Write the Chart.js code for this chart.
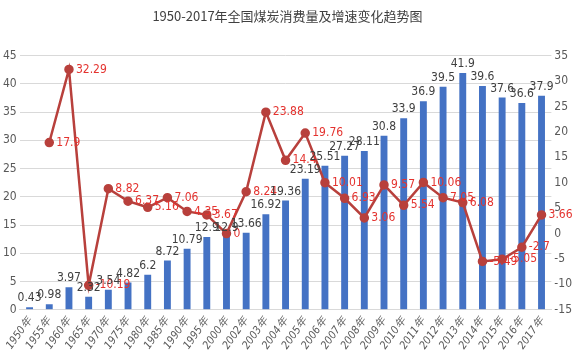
<!DOCTYPE html>
<html lang="zh">

<head>
    <meta charset="UTF-8">
    <title>1950-2017年全国煤炭消费量及增速变化趋势图</title>
    <script src="https://cdn.jsdelivr.net/npm/chart.js"></script>
    <style>
        html, body {
            margin: 0;
            padding: 0;
            background: #ffffff;
        }

        .chart-container {
            width: 575px;
            height: 364px;
        }
    </style>
</head>

<body>
    <div class="chart-container">
        <canvas id="coalChart"></canvas>
    </div>

    <script>
        // Years on the x axis
        const years = ['1950年', '1955年', '1960年', '1965年', '1970年', '1975年', '1980年', '1985年', '1990年',
            '1995年', '2000年', '2002年', '2003年', '2004年', '2005年', '2006年', '2007年', '2008年', '2009年',
            '2010年', '2011年', '2012年', '2013年', '2014年', '2015年', '2016年', '2017年'];

        // Coal consumption (bars, left axis)
        const consumption = [0.43, 0.98, 3.97, 2.32, 3.54, 4.82, 6.2, 8.72, 10.79,
            12.9, 12.9, 13.66, 16.92, 19.36, 23.19, 25.51, 27.27, 28.11, 30.8,
            33.9, 36.9, 39.5, 41.9, 39.6, 37.6, 36.6, 37.9];

        // Growth rate in % (line, right axis)
        const growth = [null, 17.9, 32.29, -10.19, 8.82, 6.37, 5.16, 7.06, 4.35,
            3.67, 0, 8.24, 23.88, 14.4, 19.76, 10.01, 6.93, 3.06, 9.57,
            5.54, 10.06, 7.05, 6.08, -5.49, -5.05, -2.7, 3.66];

        // Axis ranges [min, max, step]
        const leftAxis = [0, 45, 5];
        const rightAxis = [-15, 35, 5];

        const narrow = "'Liberation Sans Narrow', 'DejaVu Sans Condensed', sans-serif";

        // Small plugin to write the value labels next to bars and points
        const valueLabels = {
            id: 'valueLabels',
            afterDatasetsDraw(chart) {
                const ctx = chart.ctx;
                ctx.save();
                ctx.font = "12px " + narrow;
                chart.data.datasets.forEach((ds, i) => {
                    const meta = chart.getDatasetMeta(i);
                    meta.data.forEach((el, j) => {
                        const v = ds.data[j];
                        if (v === null) return;
                        if (ds.type === 'bar') {
                            ctx.fillStyle = '#404040';
                            ctx.textAlign = 'center';
                            ctx.textBaseline = 'bottom';
                            ctx.fillText(String(v), el.x, el.y - 3);
                        } else {
                            ctx.fillStyle = '#e4332f';
                            ctx.textAlign = 'left';
                            ctx.textBaseline = 'middle';
                            ctx.fillText(String(v), el.x + 7, el.y);
                        }
                    });
                });
                ctx.restore();
            }
        };

        const ctx = document.getElementById('coalChart').getContext('2d');

        new Chart(ctx, {
            data: {
                labels: years,
                datasets: [{
                    type: 'line',
                    label: '增速',
                    data: growth,
                    yAxisID: 'y1',
                    borderColor: '#b8403c',
                    backgroundColor: '#b8403c',
                    borderWidth: 2.5,
                    pointRadius: 3.5,
                    pointBackgroundColor: '#b8403c',
                    tension: 0,
                    order: 0
                }, {
                    type: 'bar',
                    label: '消费量',
                    data: consumption,
                    yAxisID: 'y',
                    backgroundColor: '#4472c4',
                    categoryPercentage: 0.7,
                    barPercentage: 0.5,
                    order: 1
                }]
            },
            options: {
                responsive: true,
                maintainAspectRatio: false,
                animation: false,
                layout: { padding: { left: 0, right: 0, top: 4, bottom: 7 } },
                plugins: {
                    legend: { display: false },
                    tooltip: { enabled: false },
                    title: {
                        display: true,
                        text: '1950-2017年全国煤炭消费量及增速变化趋势图',
                        color: '#404040',
                        font: { family: "'Noto Sans CJK SC', sans-serif", size: 13, weight: 'normal' },
                        padding: { top: 4, bottom: 32 }
                    }
                },
                scales: {
                    x: {
                        grid: { display: false, drawTicks: false },
                        border: { color: '#d9d9d9' },
                        ticks: {
                            color: '#595959',
                            font: { family: narrow, size: 11, style: 'italic' },
                            minRotation: 55,
                            maxRotation: 55,
                            autoSkip: false,
                            padding: 5
                        }
                    },
                    y: {
                        position: 'left',
                        min: leftAxis[0],
                        max: leftAxis[1],
                        grid: { color: '#d9d9d9', drawTicks: false },
                        border: { display: false },
                        ticks: { stepSize: leftAxis[2], color: '#595959', font: { family: narrow, size: 12 }, padding: 3 }
                    },
                    y1: {
                        position: 'right',
                        min: rightAxis[0],
                        max: rightAxis[1],
                        grid: { display: false, drawTicks: false },
                        border: { display: false },
                        ticks: { stepSize: rightAxis[2], color: '#595959', font: { family: narrow, size: 12 }, padding: 3 }
                    }
                }
            },
            plugins: [valueLabels]
        });
    </script>
</body>

</html>
